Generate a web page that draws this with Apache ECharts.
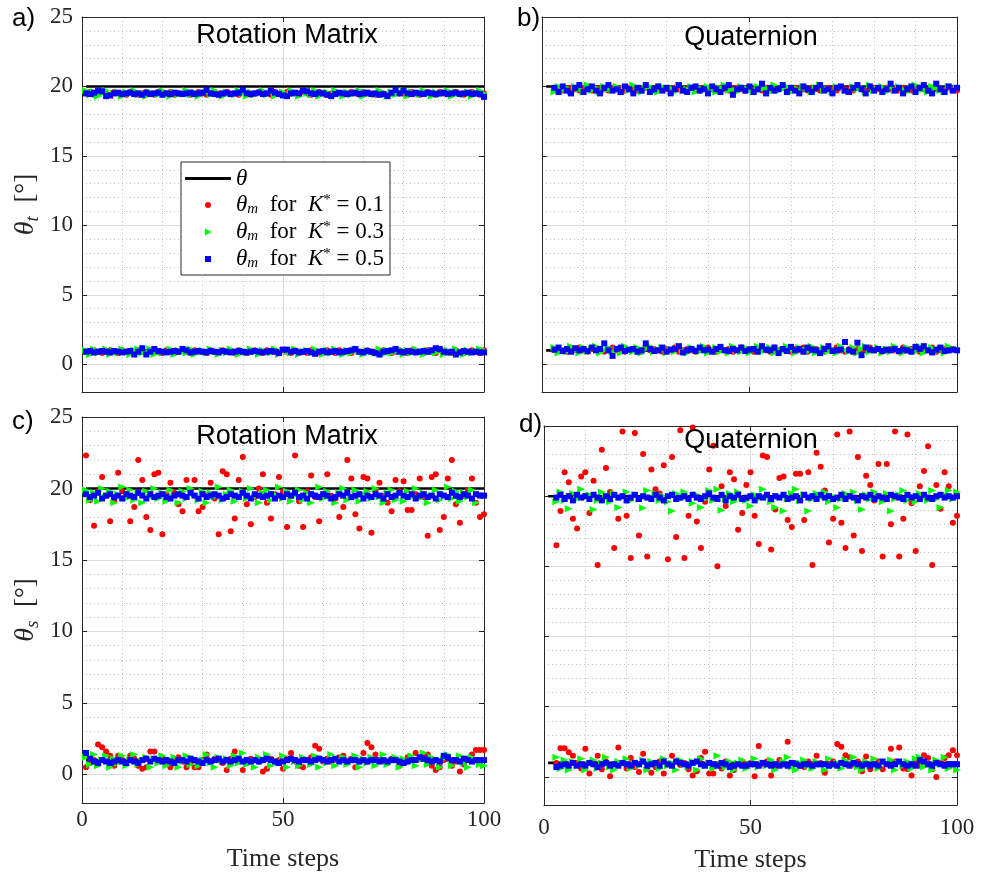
<!DOCTYPE html>
<html><head><meta charset="utf-8">
<script src="https://cdn.jsdelivr.net/npm/echarts@6/dist/echarts.min.js"></script>
<style>html,body{margin:0;padding:0;background:#fff}#c{width:989px;height:872px}</style>
</head><body><div id="c"></div>
<script>
// ---------------- data ----------------
const timeMin = 0, timeMax = 100, timeInterval = 50;
const yMin = -2, yMax = 25;
const thetaTop = 20, thetaLow = 1;
const thetaStart = 1, thetaEnd = 100;
const legendNames = ['θ', 'K01', 'K03', 'K05'];

// Panel a (Rotation Matrix, theta_t), steps 1..100
const aStart = 1;
const aTopRed = [19.5,19.6,19.4,19.5,19.6,19.5,19.4,19.6,19.5,19.5,19.4,19.6,19.5,19.4,19.5,19.6,19.5,19.4,19.6,19.5,19.5,19.6,19.4,19.5,19.5,19.6,19.4,19.5,19.6,19.5,19.4,19.5,19.6,19.5,19.4,19.6,19.5,19.5,19.4,19.6,19.5,19.4,19.5,19.6,19.5,19.5,19.4,19.6,19.5,19.4,19.6,19.5,19.5,19.4,19.6,19.5,19.4,19.5,19.6,19.5,19.4,19.5,19.6,19.5,19.4,19.5,19.6,19.5,19.4,19.6,19.5,19.5,19.4,19.6,19.5,19.4,19.5,19.6,19.5,19.5,19.4,19.6,19.5,19.4,19.5,19.6,19.5,19.4,19.6,19.5,19.5,19.4,19.6,19.5,19.4,19.5,19.6,19.5,19.4,19.5];
const aTopGreen = [19.7,19.4,19.6,19.3,19.5,19.7,19.4,19.5,19.6,19.3,19.6,19.5,19.7,19.4,19.5,19.3,19.6,19.5,19.4,19.7,19.5,19.3,19.6,19.4,19.5,19.7,19.4,19.6,19.3,19.5,19.6,19.4,19.7,19.5,19.3,19.6,19.5,19.4,19.7,19.5,19.3,19.6,19.4,19.5,19.7,19.4,19.6,19.3,19.5,19.6,19.4,19.7,19.5,19.3,19.6,19.5,19.4,19.7,19.3,19.5,19.6,19.4,19.7,19.5,19.3,19.6,19.4,19.5,19.7,19.3,19.6,19.5,19.4,19.7,19.5,19.3,19.6,19.4,19.5,19.7,19.3,19.6,19.5,19.4,19.7,19.5,19.3,19.6,19.4,19.5,19.7,19.3,19.6,19.5,19.4,19.6,19.3,19.5,19.7,19.5];
const aTopBlue = [19.5,19.45,19.55,19.7,19.65,19.3,19.35,19.5,19.55,19.45,19.5,19.55,19.45,19.5,19.4,19.55,19.45,19.5,19.55,19.4,19.5,19.45,19.55,19.5,19.45,19.5,19.55,19.45,19.5,19.55,19.75,19.5,19.45,19.4,19.5,19.55,19.45,19.5,19.55,19.75,19.5,19.45,19.5,19.55,19.45,19.5,19.7,19.55,19.45,19.35,19.3,19.5,19.55,19.5,19.7,19.65,19.5,19.45,19.55,19.5,19.4,19.3,19.45,19.55,19.5,19.45,19.5,19.55,19.45,19.5,19.55,19.45,19.5,19.4,19.45,19.3,19.55,19.75,19.5,19.7,19.5,19.45,19.55,19.5,19.45,19.55,19.5,19.45,19.5,19.55,19.45,19.5,19.55,19.45,19.5,19.55,19.45,19.5,19.45,19.25];
const aLowRed = [0.9,0.8,1.0,0.9,0.8,0.9,1.0,0.9,0.8,1.0,0.9,0.9,0.8,1.0,0.9,0.8,1.0,0.9,0.9,0.8,1.0,0.9,0.8,0.9,1.0,0.9,0.8,1.0,0.9,0.9,0.8,1.0,0.9,0.8,1.0,0.9,0.9,0.8,1.0,0.9,0.8,0.9,1.0,0.9,0.8,1.0,0.9,0.9,0.8,1.0,0.9,0.8,1.0,0.9,0.9,0.8,1.0,0.9,0.8,0.9,1.0,0.9,0.8,1.0,0.9,0.9,0.8,1.0,0.9,0.8,1.0,0.9,0.9,0.8,1.0,0.9,0.8,0.9,1.0,0.9,0.8,1.0,0.9,0.9,0.8,1.0,0.9,0.8,1.0,0.9,0.9,0.8,1.0,0.9,0.8,0.9,1.0,0.9,0.8,1.0];
const aLowGreen = [1.0,0.7,1.1,0.8,0.9,1.1,0.7,1.0,0.8,1.1,0.9,0.7,1.0,1.1,0.8,0.9,1.1,0.7,1.0,0.8,0.9,1.1,0.7,1.0,0.9,0.8,1.1,0.7,0.9,1.0,0.8,1.1,0.9,0.7,1.0,0.8,1.1,0.9,0.7,1.0,0.8,1.1,0.9,0.7,1.0,0.9,0.8,1.1,0.7,1.0,0.9,0.8,1.1,0.7,0.9,1.0,0.8,1.1,0.9,0.7,1.0,0.8,1.1,0.9,0.7,1.0,0.8,1.1,0.9,0.7,1.0,0.9,0.8,1.1,0.7,1.0,0.8,0.9,1.1,0.7,1.0,0.8,1.1,0.9,0.7,1.0,0.9,0.8,1.1,0.7,1.0,0.8,1.1,0.9,0.7,1.0,0.8,0.9,1.1,1.0];
const aLowBlue = [0.9,0.95,0.85,0.9,0.95,0.9,0.85,0.95,0.9,0.85,0.9,0.95,0.7,0.9,1.15,0.7,0.9,1.1,0.95,0.9,0.85,0.9,0.95,0.9,1.1,1.0,0.85,0.9,0.95,0.9,0.85,0.95,0.9,0.85,0.95,0.9,0.85,0.9,0.95,0.9,0.85,0.9,0.95,0.9,0.85,0.9,0.95,0.9,0.8,1.05,1.05,0.9,0.95,0.85,0.9,0.95,0.85,0.75,0.9,0.95,0.85,0.9,0.95,0.85,0.9,0.95,1.0,1.1,0.9,0.85,0.95,0.9,0.8,0.7,0.9,0.95,1.0,1.1,0.9,0.85,0.95,0.9,0.85,0.9,0.95,0.9,1.0,1.15,1.1,0.9,0.85,0.9,0.7,0.85,0.95,0.9,0.85,0.9,0.85,0.85];

// Panel b (Quaternion, theta_t), steps 3..100
const bStart = 3;
const bTopRed = [19.8,19.9,19.7,19.8,19.9,19.8,19.7,19.9,19.8,19.7,19.8,19.9,19.8,19.7,19.9,19.8,19.8,19.7,19.9,19.8,19.7,19.8,19.9,19.8,19.7,19.9,19.8,19.8,19.7,19.9,19.8,19.7,19.8,19.9,19.8,19.7,19.9,19.8,19.8,19.7,19.9,19.8,19.7,19.8,19.9,19.8,19.7,19.9,19.8,19.8,19.7,19.9,19.8,19.7,19.8,19.9,19.8,19.7,19.9,19.8,19.8,19.7,19.9,19.8,19.7,19.8,19.9,19.8,19.7,19.9,19.8,19.8,19.7,19.9,19.8,19.7,19.8,19.9,19.8,19.7,19.9,19.8,19.8,19.7,19.9,19.8,19.7,19.8,19.9,19.8,19.7,19.9,19.8,19.8,19.7,19.9,19.8,19.7];
const bTopGreen = [19.6,20.0,19.7,19.9,19.6,20.0,19.8,19.6,20.1,19.7,19.9,19.6,20.0,19.8,19.7,20.0,19.6,19.9,19.7,20.1,19.8,19.6,19.9,20.0,19.7,19.6,20.0,19.8,19.9,19.6,20.1,19.7,19.8,20.0,19.6,19.9,19.7,20.0,19.8,19.6,19.9,20.1,19.7,19.8,19.6,20.0,19.9,19.7,19.6,20.0,19.8,19.9,19.6,20.1,19.7,19.8,20.0,19.6,19.9,19.7,20.0,19.8,19.6,19.9,20.1,19.7,19.8,19.6,20.0,19.9,19.7,19.6,20.0,19.8,19.9,19.6,20.1,19.7,19.8,20.0,19.6,19.9,19.7,20.0,19.8,19.6,19.9,20.1,19.7,19.8,19.6,20.0,19.9,19.7,19.6,20.0,19.8,19.9];
const bTopBlue = [19.9,19.6,20.0,19.7,19.5,19.9,20.1,19.6,19.8,20.0,19.7,19.5,19.9,20.1,19.7,19.8,19.6,20.0,19.8,19.5,19.9,19.7,20.1,19.6,19.8,20.0,19.7,19.9,19.5,19.8,20.1,19.7,19.6,19.9,20.0,19.7,19.8,19.5,20.0,19.8,19.6,19.9,20.1,19.4,19.8,19.9,19.7,20.0,19.6,19.8,20.2,19.5,19.9,19.7,19.8,20.1,19.6,19.9,19.7,19.5,20.0,19.8,19.6,19.9,20.1,19.7,19.8,19.5,19.9,20.0,19.7,19.6,19.9,20.1,19.8,19.5,20.0,19.7,19.9,19.6,19.8,20.2,19.7,19.9,19.5,19.8,20.0,19.6,19.9,20.1,19.7,19.5,20.2,19.8,19.6,20.0,19.7,19.9];
const bLowRed = [1.0,1.1,1.0,0.9,1.1,1.0,1.2,1.0,0.9,1.1,1.0,1.1,0.9,1.0,1.2,1.0,1.1,0.9,1.0,1.1,1.0,0.9,1.2,1.0,1.1,1.0,0.9,1.1,1.0,1.2,0.9,1.0,1.1,1.0,0.9,1.1,1.0,1.2,1.0,0.9,1.1,1.0,1.1,0.9,1.0,1.2,1.0,1.1,0.9,1.0,1.1,1.0,0.9,1.2,1.0,1.1,1.0,0.9,1.1,1.0,1.2,0.9,1.0,1.1,1.0,0.9,1.1,1.0,1.2,1.0,0.9,1.1,1.0,1.1,0.9,1.0,1.2,1.0,1.1,0.9,1.0,1.1,1.0,0.9,1.2,1.0,1.1,1.0,0.9,1.1,1.0,1.2,0.9,1.0,1.1,1.0,1.1,1.0];
const bLowGreen = [1.2,0.8,1.1,0.9,1.3,1.0,0.8,1.2,0.9,1.1,1.3,0.8,1.0,1.2,0.9,1.1,0.8,1.3,1.0,0.9,1.2,0.8,1.1,1.3,0.9,1.0,1.2,0.8,1.1,0.9,1.3,1.0,0.8,1.2,1.1,0.9,1.3,0.8,1.0,1.2,0.9,1.1,0.8,1.3,1.0,0.9,1.2,0.8,1.1,1.3,0.9,1.0,1.2,0.8,1.1,0.9,1.3,1.0,0.8,1.2,1.1,0.9,1.3,0.8,1.0,1.2,0.9,1.1,0.8,1.3,1.0,0.9,1.2,0.8,1.1,1.3,0.9,1.0,1.2,0.8,1.1,0.9,1.3,1.0,0.8,1.2,1.1,0.9,1.3,0.8,1.0,1.2,0.9,1.1,0.8,1.3,1.0,1.1];
const bLowBlue = [1.05,1.2,0.95,1.1,0.9,1.15,1.0,1.1,0.95,1.2,1.0,1.1,1.5,1.0,0.6,1.1,1.2,0.95,1.05,1.1,0.9,1.0,1.5,1.1,0.95,1.0,1.2,0.9,1.05,1.1,1.3,0.85,1.0,1.1,0.95,1.2,1.0,1.05,0.9,1.1,1.25,1.0,0.95,1.1,1.0,1.2,0.95,1.05,1.1,0.9,1.3,1.05,1.0,1.2,0.8,1.1,0.95,1.25,1.0,1.1,0.9,1.2,1.05,1.0,0.8,1.1,1.3,0.95,1.0,1.05,1.6,1.0,0.9,1.55,0.65,1.2,1.05,1.0,1.1,0.95,1.05,1.0,1.1,0.95,1.05,1.0,0.9,1.25,1.1,1.3,1.0,0.85,1.05,1.2,0.95,1.0,1.05,1.0];

// Panel c (Rotation Matrix, theta_s), steps 1..100
const cStart = 1;
const cTopRed = [22.3,19.2,17.4,19.8,20.8,19.5,17.7,19.1,21.1,19.8,19.4,17.7,18.7,22.0,20.6,18.0,17.1,21.0,21.1,16.8,19.6,20.4,19.7,18.9,18.4,20.6,19.9,20.6,18.4,18.7,19.5,20.4,19.3,16.8,21.2,21.0,17.0,17.9,20.6,22.2,18.9,17.5,19.4,20.0,21.0,19.0,17.9,19.6,20.8,19.8,17.3,19.5,22.3,19.1,17.3,19.8,20.9,19.4,17.7,19.6,21.0,19.5,19.3,18.0,18.7,22.0,20.7,18.2,17.2,20.8,20.7,16.9,19.9,20.4,19.5,19.0,18.4,20.6,19.8,20.5,18.5,18.5,19.6,20.7,19.4,16.7,20.8,21.0,17.1,18.0,20.7,22.0,18.9,17.6,19.5,19.9,20.7,19.0,18.0,18.2];
const cTopGreen = [19.9,19.2,19.7,19.1,20.0,19.4,19.8,19.0,19.6,20.1,19.3,19.9,19.2,19.6,19.0,19.8,19.4,20.0,19.3,19.7,19.1,19.9,19.5,19.0,19.8,19.3,20.0,19.6,19.2,19.8,19.0,19.7,19.4,20.1,19.2,19.6,19.9,19.1,19.5,19.8,19.3,20.0,19.4,19.0,19.7,19.9,19.2,19.6,20.1,19.3,19.8,19.1,19.5,19.9,19.2,19.7,19.0,19.6,20.1,19.3,19.8,19.4,19.0,19.7,20.0,19.2,19.5,19.9,19.1,19.6,19.8,19.3,20.0,19.4,19.0,19.7,19.9,19.2,19.6,19.1,19.8,19.4,20.0,19.3,19.7,19.0,19.5,19.9,19.2,19.6,20.1,19.3,19.8,19.1,19.7,19.4,19.9,19.0,19.6,19.5];
const cTopBlue = [19.6,19.4,19.5,19.7,19.3,19.5,19.6,19.4,19.5,19.3,19.6,19.5,19.4,19.7,19.5,19.3,19.6,19.4,19.5,19.6,19.4,19.3,19.5,19.6,19.5,19.4,19.7,19.5,19.3,19.6,19.4,19.5,19.6,19.5,19.3,19.4,19.6,19.5,19.4,19.7,19.5,19.3,19.6,19.5,19.4,19.5,19.6,19.3,19.5,19.4,19.6,19.5,19.7,19.4,19.5,19.3,19.6,19.5,19.4,19.6,19.5,19.3,19.4,19.6,19.5,19.7,19.4,19.5,19.6,19.3,19.5,19.4,19.6,19.5,19.3,19.6,19.4,19.5,19.7,19.5,19.4,19.6,19.3,19.5,19.6,19.4,19.5,19.3,19.6,19.5,19.4,19.7,19.5,19.4,19.6,19.5,19.3,19.6,19.5,19.5];
const cLowRed = [0.5,0.8,1.0,2.1,1.9,1.6,1.3,0.6,1.3,1.0,0.8,1.3,1.1,0.6,0.4,0.5,1.6,1.6,1.0,1.2,0.9,0.5,1.1,1.2,0.9,0.5,0.8,0.5,0.5,1.0,1.4,0.9,1.1,1.0,0.8,0.3,1.1,1.6,0.9,0.3,0.8,1.1,1.0,0.9,0.2,0.4,1.1,0.9,1.0,0.4,1.1,1.5,0.9,0.6,0.5,1.0,1.2,2.0,1.8,0.9,1.1,0.9,1.0,1.2,1.3,0.9,1.1,0.5,0.9,1.5,2.2,1.9,1.4,1.0,0.9,0.8,1.1,1.0,0.6,0.9,1.2,1.0,1.5,1.1,1.4,1.4,0.6,0.3,0.5,1.0,1.2,0.6,0.9,0.2,0.7,1.1,1.4,1.7,1.7,1.7];
const cLowGreen = [1.2,0.7,1.4,0.6,1.0,1.3,0.5,1.1,0.8,1.3,0.6,1.0,1.4,0.7,0.9,1.2,0.5,1.1,0.8,1.3,0.6,1.0,1.2,0.5,0.9,1.3,0.7,1.1,0.6,1.0,1.4,0.8,0.5,1.2,0.9,1.1,0.6,1.3,0.8,1.5,0.7,1.0,0.5,1.2,0.9,1.4,0.6,1.0,0.8,1.3,0.5,1.1,0.9,0.6,1.2,1.0,0.7,1.3,0.5,1.1,0.8,1.4,0.6,1.0,1.2,0.7,0.9,1.3,0.5,1.1,0.8,1.2,0.6,1.0,1.4,0.7,0.9,1.2,0.5,1.1,0.8,1.3,0.6,1.0,1.5,0.7,1.2,0.9,0.5,1.1,1.4,0.6,1.0,1.3,0.8,0.5,1.2,1.0,0.7,0.6];
const cLowBlue = [1.5,1.1,0.9,0.8,1.0,0.9,0.8,0.9,1.0,0.9,0.8,1.0,0.9,0.8,1.0,1.1,0.9,1.1,1.0,0.9,1.0,0.9,0.8,1.0,1.0,0.9,1.1,1.0,0.9,0.8,1.0,0.9,1.0,1.1,0.9,1.0,0.9,1.0,1.1,0.9,1.0,0.9,1.0,0.9,1.0,1.1,1.0,0.9,0.8,0.9,1.0,1.1,1.0,0.9,1.0,1.0,0.9,1.0,1.1,1.0,0.9,1.0,1.1,0.9,1.0,0.9,1.0,1.0,0.9,1.0,0.9,1.0,1.0,0.9,1.0,0.9,1.0,1.0,0.9,0.8,0.9,1.0,1.0,1.2,1.1,1.0,0.9,1.0,0.9,1.3,1.2,1.0,1.0,0.9,1.1,1.0,0.9,1.0,1.0,1.0];

// Panel d (Quaternion, theta_s), steps 3..100
const dStart = 3;
const dTopRed = [16.5,18.95,21.7,21.0,18.4,17.7,21.4,21.7,18.8,21.1,15.1,23.3,22.0,20.3,16.3,18.4,24.6,18.6,15.6,24.5,17.2,23.0,15.7,21.9,20.5,20.2,22.2,15.5,22.8,17.1,24.7,15.6,18.6,24.9,18.2,16.3,19.6,21.9,23.6,15.0,20.7,19.3,21.7,21.2,17.6,18.8,20.8,21.7,18.6,16.6,22.9,22.8,16.2,19.05,21.3,21.4,18.3,17.8,21.6,21.6,18.3,21.7,15.1,23.1,22.1,20.4,16.7,18.4,24.4,18.1,16.3,24.6,17.2,22.8,16.1,21.45,20.8,19.7,22.3,15.7,22.3,18.0,24.6,15.7,18.4,24.4,19.5,16.1,20.7,21.8,23.55,15.1,20.8,19.1,21.7,20.7,18.1,18.6];
const dTopGreen = [19.6,20.3,19.7,19.1,20.2,19.8,20.5,19.9,20.1,19.05,19.7,20.3,19.9,19.6,20.2,19.2,19.9,20.3,19.7,20.1,19.8,19.15,20.4,19.9,20.2,19.7,20.0,19.6,18.95,20.2,19.8,20.3,19.9,19.5,20.1,19.2,19.8,20.4,19.7,20.5,19.0,19.8,20.2,19.6,20.3,19.9,19.7,19.3,20.1,19.8,20.5,19.9,19.6,19.2,20.0,18.95,19.8,20.2,20.5,19.7,20.1,18.95,19.8,20.2,19.9,20.3,19.6,20.0,19.2,19.8,20.2,19.9,20.3,19.7,19.05,20.1,19.8,20.3,19.9,19.6,20.2,18.95,19.8,20.1,20.4,19.7,20.0,19.6,20.2,19.9,19.7,20.4,19.8,19.2,20.1,20.4,19.8,20.3];
const dTopBlue = [19.9,20.1,19.8,20.0,19.7,20.1,19.9,20.0,19.8,20.1,19.9,19.7,20.0,19.8,20.1,19.9,20.0,19.7,19.9,20.1,19.8,20.0,19.9,19.8,20.1,19.9,19.7,20.0,20.1,19.8,19.9,20.0,19.8,20.1,19.9,19.8,20.0,20.2,19.9,19.8,20.1,19.7,20.0,19.9,20.1,19.8,19.9,20.0,19.7,20.0,19.9,20.1,19.8,20.0,19.9,20.1,19.8,19.9,20.0,19.7,20.1,19.9,20.0,19.8,20.1,19.9,20.0,19.8,19.9,20.1,19.8,20.0,19.9,19.7,20.0,19.9,20.1,19.8,20.0,19.9,19.8,20.1,20.0,19.9,19.8,20.1,19.9,20.0,19.8,20.1,19.9,19.8,20.0,20.1,19.9,20.0,19.9,20.0];
const dLowRed = [1.0,2.05,2.05,1.75,1.5,1.0,0.6,2.0,0.25,0.9,1.5,0.55,1.1,0.05,0.9,2.1,1.0,0.6,1.35,0.7,0.35,1.65,0.6,0.3,0.7,1.1,0.25,0.9,1.5,1.1,0.85,1.0,0.55,0.1,0.4,1.35,1.8,0.25,0.25,0.9,0.6,1.1,0.1,0.5,0.9,1.1,0.8,1.0,0.05,2.2,0.9,1.1,0.1,0.8,1.2,0.9,2.5,1.0,1.0,0.8,0.7,1.1,0.9,1.5,1.0,0.3,0.9,1.1,2.35,2.15,1.55,1.4,0.9,1.1,0.4,1.45,0.55,0.9,1.1,0.55,0.9,2.0,1.1,2.1,0.6,0.55,0.1,1.0,0.8,1.55,1.35,0.55,0.0,1.0,1.35,1.55,1.9,1.55];
const dLowGreen = [1.4,0.6,1.2,0.5,1.1,0.8,1.3,0.5,0.9,1.2,0.6,1.0,1.4,0.7,0.5,1.1,0.9,1.3,0.6,1.0,0.8,1.2,0.5,1.1,0.9,0.6,1.3,0.8,1.0,0.5,1.2,0.9,0.7,1.1,0.5,1.3,0.8,1.0,0.6,1.5,0.9,0.7,1.1,0.5,1.0,1.2,0.6,0.9,1.3,0.7,1.0,0.8,1.2,0.5,0.9,1.1,1.4,0.7,0.5,1.0,1.2,0.8,0.6,1.1,0.9,0.5,1.3,0.8,1.0,0.6,1.2,0.9,1.4,0.7,0.5,1.1,0.8,1.3,0.6,1.0,0.9,1.2,0.5,1.0,0.8,1.1,0.6,1.3,1.4,0.7,1.0,0.5,1.2,0.9,1.4,0.6,0.8,0.5];
const dLowBlue = [0.7,0.8,0.9,0.8,1.0,0.8,0.9,0.8,1.0,0.9,0.7,0.9,1.0,0.8,0.9,0.8,1.0,0.9,0.8,1.0,0.9,1.1,0.8,0.9,1.0,0.8,1.1,0.9,0.8,1.1,1.0,0.9,0.8,1.0,1.1,0.9,0.8,1.0,0.9,0.8,1.0,0.9,0.7,0.8,0.9,0.8,0.8,0.9,0.9,0.8,1.0,0.9,0.8,0.9,0.8,0.9,0.8,1.0,0.9,0.8,0.9,0.9,0.8,0.9,0.9,0.9,0.8,0.9,0.8,1.0,0.9,0.8,1.0,0.9,0.8,0.9,0.8,0.9,0.8,1.1,0.9,0.8,0.9,1.1,0.9,0.8,0.9,0.8,1.2,1.1,0.9,0.8,1.0,0.9,0.8,0.9,0.9,0.9];

// ---------------- chart ----------------
const SERIF = '"Liberation Serif", "DejaVu Serif", serif';
const SANS = '"Liberation Sans", Arial, sans-serif';
const AX = '#262626';

const panels = [
  {grid:[82,17,402,375],  start:aStart, top:[aTopRed,aTopGreen,aTopBlue], low:[aLowRed,aLowGreen,aLowBlue], yLab:true,  xLab:false, xMargin:8,  xGap:43, yName:'t'},
  {grid:[542,17,415,375], start:bStart, top:[bTopRed,bTopGreen,bTopBlue], low:[bLowRed,bLowGreen,bLowBlue], yLab:false, xLab:false, xMargin:8,  xGap:43, yName:null},
  {grid:[82,417,402,386], start:cStart, top:[cTopRed,cTopGreen,cTopBlue], low:[cLowRed,cLowGreen,cLowBlue], yLab:true,  xLab:true,  xMargin:5,  xGap:43, yName:'s'},
  {grid:[544,426,413,379],start:dStart, top:[dTopRed,dTopGreen,dTopBlue], low:[dLowRed,dLowGreen,dLowBlue], yLab:false, xLab:true,  xMargin:11, xGap:42, yName:null}
];

const pts = (vals, start) => vals.map((v, i) => [start + i, v]);

const grids = [], xAxes = [], yAxes = [], series = [];
const tickStyle = {show:true, inside:true, length:5, lineStyle:{color:AX, width:1}};
const lineStyleAx = {show:true, onZero:false, lineStyle:{color:AX, width:1}};
panels.forEach((p, i) => {
  grids.push({left:p.grid[0], top:p.grid[1], width:p.grid[2], height:p.grid[3], containLabel:false, outerBoundsMode:'none'});
  xAxes.push({
    type:'value', gridIndex:i, position:'bottom', min:timeMin, max:timeMax, interval:timeInterval,
    axisLine:lineStyleAx, axisTick:tickStyle,
    axisLabel:{show:p.xLab, color:AX, fontFamily:SERIF, fontSize:23, margin:p.xMargin},
    splitLine:{show:true, lineStyle:{color:'#dcdcdc', width:1}},
    minorTick:{show:false, splitNumber:5},
    minorSplitLine:{show:true, lineStyle:{color:'#c4c4c4', width:1, type:[1,3]}},
    name:p.xLab ? 'Time steps' : '', nameLocation:'middle', nameGap:p.xGap,
    nameTextStyle:{color:AX, fontFamily:SERIF, fontSize:26}
  });
  xAxes.push({
    type:'value', gridIndex:i, position:'top', min:timeMin, max:timeMax, interval:timeInterval,
    axisLine:lineStyleAx, axisTick:tickStyle, axisLabel:{show:false}, splitLine:{show:false}
  });
  const yBase = {type:'value', gridIndex:i, min:yMin, max:yMax, splitNumber:5};
  yAxes.push(Object.assign({}, yBase, {
    position:'left', axisLine:lineStyleAx, axisTick:tickStyle,
    axisLabel:{show:p.yLab, showMinLabel:false, color:AX, fontFamily:SERIF, fontSize:23, margin:9},
    splitLine:{show:true, lineStyle:{color:'#dcdcdc', width:1}},
    minorTick:{show:false, splitNumber:5},
    minorSplitLine:{show:true, lineStyle:{color:'#c4c4c4', width:1, type:[1,3]}},
    name:p.yName ? '{it|θ}{sub|' + p.yName + '}  [°]' : '', nameLocation:'middle', nameRotate:90, nameGap:40,
    nameTextStyle:{color:AX, fontFamily:SERIF, fontSize:27,
      rich:{it:{fontStyle:'italic', fontFamily:SERIF, fontSize:28, color:AX},
            sub:{fontStyle:'italic', fontFamily:SERIF, fontSize:19, color:AX, padding:[13,0,0,0]}}}
  }));
  yAxes.push(Object.assign({}, yBase, {
    position:'right', axisLine:lineStyleAx, axisTick:tickStyle, axisLabel:{show:false}, splitLine:{show:false}
  }));
  const xa = 2 * i, ya = 2 * i;
  [thetaTop, thetaLow].forEach(th => series.push({
    type:'line', name:legendNames[0], xAxisIndex:xa, yAxisIndex:ya, symbol:'none',
    data:[[thetaStart, th], [thetaEnd, th]], lineStyle:{color:'#000', width:2.6}, itemStyle:{color:'#000'}, z:2
  }));
  const styles = [
    {name:legendNames[1], symbol:'circle', symbolSize:6, color:'#ff0000', rot:0},
    {name:legendNames[2], symbol:'triangle', symbolSize:[7,8], color:'#00ff00', rot:-90},
    {name:legendNames[3], symbol:'rect', symbolSize:6, color:'#0000ff', rot:0}
  ];
  styles.forEach((s, k) => series.push({
    type:'scatter', name:s.name, xAxisIndex:xa, yAxisIndex:ya,
    symbol:s.symbol, symbolSize:s.symbolSize, symbolRotate:s.rot,
    itemStyle:{color:s.color, opacity:1},
    data:pts(p.top[k], p.start).concat(pts(p.low[k], p.start)), z:3 + k
  }));
});

const LF = 23;
const richLegend = {
  it:{fontStyle:'italic', fontFamily:SERIF, fontSize:LF, lineHeight:22, color:'#000'},
  sub:{fontStyle:'italic', fontFamily:SERIF, fontSize:15, lineHeight:22, color:'#000', padding:[8,0,0,0]},
  sup:{fontFamily:SERIF, fontSize:15, lineHeight:22, color:'#000', padding:[0,0,9,0]}
};
const legendLabel = {
  'θ':'{it|θ}',
  'K01':'{it|θ}{sub|m}  for  {it|K}{sup|*} = 0.1',
  'K03':'{it|θ}{sub|m}  for  {it|K}{sup|*} = 0.3',
  'K05':'{it|θ}{sub|m}  for  {it|K}{sup|*} = 0.5'
};

const option = {
  animation:false,
  backgroundColor:'#fff',
  grid:grids, xAxis:xAxes, yAxis:yAxes, series:series,
  legend:{
    show:true, orient:'vertical', left:181, top:162, itemWidth:46, itemHeight:14, itemGap:3,
    padding:[5,6,4,4], backgroundColor:'#fff', borderColor:AX, borderWidth:1, borderRadius:0,
    selectedMode:false,
    data:[
      {name:'θ', icon:'path://M0,0M46,14M0,5.6h46v2.8h-46z'},
      {name:'K01', icon:'path://M0,0M46,14M20,7a3,3 0 1,0 6,0a3,3 0 1,0 -6,0z'},
      {name:'K03', icon:'path://M0,0M46,14M20,3.5L27,7L20,10.5z'},
      {name:'K05', icon:'path://M0,0M46,14M20,4h6v6h-6z'}
    ],
    formatter:name => legendLabel[name],
    textStyle:{fontFamily:SERIF, fontSize:LF, lineHeight:22, color:'#000', rich:richLegend}
  },
  graphic:[
    {type:'text', x:287, y:36, style:{text:'Rotation Matrix', font:'27px ' + SANS, fill:'#000', textAlign:'center', textVerticalAlign:'middle'}, z:100},
    {type:'text', x:751, y:38, style:{text:'Quaternion', font:'27px ' + SANS, fill:'#000', textAlign:'center', textVerticalAlign:'middle'}, z:100},
    {type:'text', x:287, y:437, style:{text:'Rotation Matrix', font:'27px ' + SANS, fill:'#000', textAlign:'center', textVerticalAlign:'middle'}, z:100},
    {type:'text', x:751, y:441, style:{text:'Quaternion', font:'27px ' + SANS, fill:'#000', textAlign:'center', textVerticalAlign:'middle'}, z:100},
    {type:'text', x:12, y:19, style:{text:'a)', font:'26px ' + SANS, fill:'#000', textAlign:'left', textVerticalAlign:'middle'}, z:100},
    {type:'text', x:517, y:19, style:{text:'b)', font:'26px ' + SANS, fill:'#000', textAlign:'left', textVerticalAlign:'middle'}, z:100},
    {type:'text', x:12, y:422, style:{text:'c)', font:'26px ' + SANS, fill:'#000', textAlign:'left', textVerticalAlign:'middle'}, z:100},
    {type:'text', x:519, y:425, style:{text:'d)', font:'26px ' + SANS, fill:'#000', textAlign:'left', textVerticalAlign:'middle'}, z:100}
  ]
};

const chart = echarts.init(document.getElementById('c'), null, {renderer:'canvas', width:989, height:872});
chart.setOption(option);
</script>
</body></html>
